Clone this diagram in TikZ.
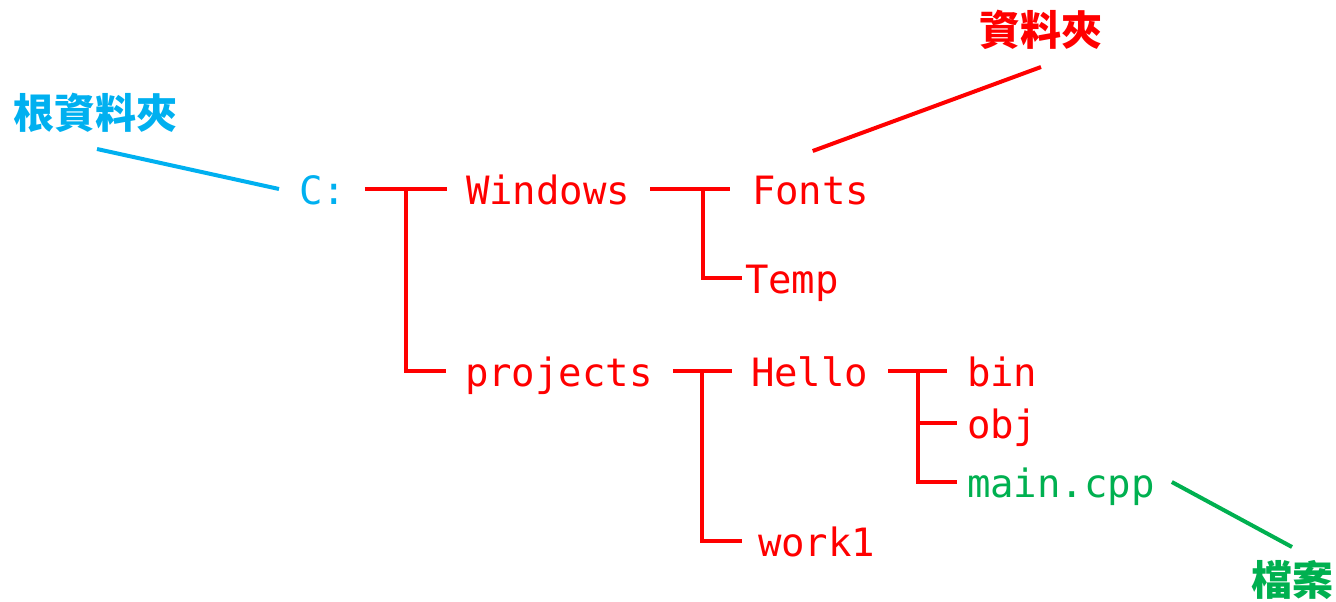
\documentclass[tikz,border=0pt]{standalone}
\usepackage{fontspec}
\setmonofont{DejaVu Sans Mono}
\newfontfamily\cjk{Noto Sans CJK TC}
\definecolor{rootblue}{RGB}{0,176,240}
\definecolor{filegreen}{RGB}{0,176,80}

\begin{document}
\begin{tikzpicture}[x=1pt,y=-1pt,line width=4pt,
	tree/.style={draw=red}]
	\tikzstyle{every node}=[inner sep=0pt]
	\tikzstyle{entry}=[anchor=base west,text height=30pt,text depth=0pt,
		font=\ttfamily\fontsize{39}{39}\selectfont,text=red]
	\tikzstyle{tag}=[font=\cjk\bfseries\fontsize{41}{41}\selectfont,
		text height=31pt,text depth=0pt]
	\useasboundingbox (0,0) rectangle (1336,602);

	\node[entry,text=rootblue] (c) at (297,204) {C:};
	\node[entry] (win) at (464,204) {Windows};
	\node[entry] (fonts) at (750,204) {Fonts};
	\node[entry] (temp) at (743,293) {Temp};
	\node[entry] (proj) at (463,386) {projects};
	\node[entry] (hello) at (749,386) {Hello};
	\node[entry] (work) at (756,556) {work1};
	\node[entry] (bin) at (965,386) {bin};
	\node[entry] (obj) at (965,438) {obj};
	\node[entry,text=filegreen] (main) at (965,497) {main.cpp};

	\node[tag,text=rootblue] (root) at (95,113) {根資料夾};
	\node[tag,text=red] (folder) at (1041,30) {資料夾};
	\node[tag,text=filegreen] (file) at (1292,580) {檔案};

	% tree
	\draw[tree] ([xshift=17]c.east) -- ([xshift=-17]win.west);
	\draw[tree] ([xshift=58]c.east) |- ([xshift=-17]proj.west);
	\draw[tree] ([xshift=18]win.east) -- ([xshift=-20]fonts.west);
	\draw[tree] ([xshift=71]win.east) |- ([xshift=-1]temp.west);
	\draw[tree] ([xshift=18]proj.east) -- ([xshift=-17]hello.west);
	\draw[tree] ([xshift=47]proj.east) |- ([xshift=-14]work.west);
	\draw[tree] ([xshift=18]hello.east) -- ([xshift=-18]bin.west);
	\draw[tree] ([xshift=48]hello.east) |- ([xshift=-8]obj.west);
	\draw[tree] ([xshift=48]hello.east) |- ([xshift=-8]main.west);

	% labels
	\draw[rootblue] ([xshift=2,yshift=-36]root.center) -- ([xshift=-18]c.west);
	\draw[red] ([xshift=2,yshift=21]fonts.north) -- ([yshift=-37]folder.center);
	\draw[filegreen] ([xshift=15]main.east) -- ([yshift=33]file.center);
\end{tikzpicture}
\end{document}
